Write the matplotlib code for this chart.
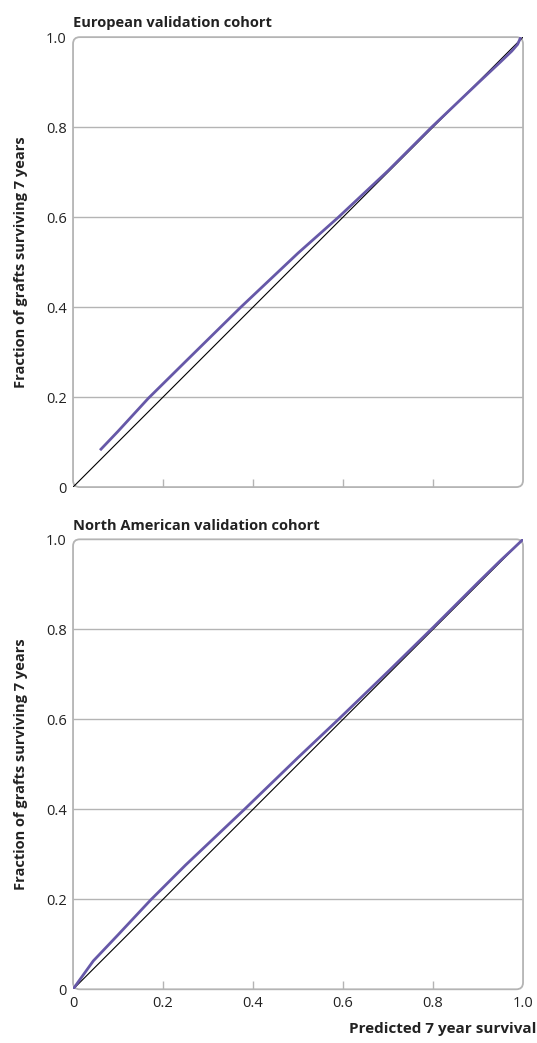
import matplotlib
matplotlib.use("Agg")
import matplotlib.pyplot as plt
from matplotlib.patches import FancyBboxPatch

plt.rcParams['font.family'] = ['Open Sans', 'DejaVu Sans']

# calibration curves
eu_pred = [0.06, 0.10, 0.167, 0.25, 0.373, 0.50, 0.59, 0.70, 0.797, 0.90, 0.95, 0.975, 0.988, 0.995]
eu_obs = [0.082, 0.124, 0.197, 0.279, 0.40, 0.52, 0.60, 0.703, 0.80, 0.898, 0.945, 0.969, 0.984, 1.0]

na_pred = [0.0, 0.012, 0.045, 0.10, 0.172, 0.25, 0.381, 0.50, 0.59, 0.70, 0.80, 0.90, 0.95, 0.98, 1.0]
na_obs = [0.0, 0.017, 0.063, 0.121, 0.198, 0.276, 0.40, 0.515, 0.60, 0.706, 0.804, 0.904, 0.953, 0.981, 1.0]

titles = ["European validation cohort", "North American validation cohort"]
ticks = [0, 0.2, 0.4, 0.6, 0.8, 1.0]
tick_labels = ["0", "0.2", "0.4", "0.6", "0.8", "1.0"]

purple = "#6658a8"
frame = "#b4b4b4"
text_col = "#222222"

fig = plt.figure(figsize=(5.37, 10.43), dpi=100)
ax1 = fig.add_axes([0.136, 0.533, 0.838, 0.4314])
ax2 = fig.add_axes([0.136, 0.0515, 0.838, 0.4314])

for ax, title, px, py, show_x in [(ax1, titles[0], eu_pred, eu_obs, False),
                                  (ax2, titles[1], na_pred, na_obs, True)]:
    ax.set_xlim(0, 1)
    ax.set_ylim(0, 1)
    for s in ax.spines.values():
        s.set_visible(False)
    box = FancyBboxPatch((0, 0), 1, 1, boxstyle="round,pad=0,rounding_size=0.015",
                         transform=ax.transAxes, fill=False, edgecolor=frame,
                         linewidth=1.3, clip_on=False, zorder=1)
    ax.add_patch(box)
    for y in ticks[1:-1]:
        ax.axhline(y, color=frame, linewidth=1.0, zorder=0)
    ax.plot([0, 1], [0, 1], color="black", linewidth=0.8, zorder=2)
    ax.plot(px, py, color=purple, linewidth=2.0, zorder=3, solid_capstyle="butt")
    ax.set_yticks(ticks)
    ax.set_yticklabels(tick_labels)
    ax.set_xticks(ticks if show_x else ticks[1:-1])
    if show_x:
        ax.set_xticklabels(tick_labels)
    else:
        ax.set_xticklabels([])
    ax.tick_params(axis="y", length=0, pad=4.5, labelsize=10.5, colors=text_col)
    ax.tick_params(axis="x", direction="in", length=6, width=1, color=frame,
                   pad=5, labelsize=10.5, labelcolor=text_col)
    ax.set_ylabel("Fraction of grafts surviving 7 years", fontweight="bold",
                  fontsize=10.5, labelpad=13, color=text_col)
    ax.set_title(title, loc="left", fontweight="bold", fontsize=10.5, pad=7,
                 color=text_col)

# no tick marks at the ends of the bottom panel
for t in ax2.xaxis.get_major_ticks():
    if t.get_loc() in (0, 1.0):
        t.tick1line.set_visible(False)

fig.text(0.999, 0.007, "Predicted 7 year survival", ha="right", va="bottom",
         fontweight="bold", fontsize=11, color=text_col)

fig.savefig("out.png", dpi=100)
